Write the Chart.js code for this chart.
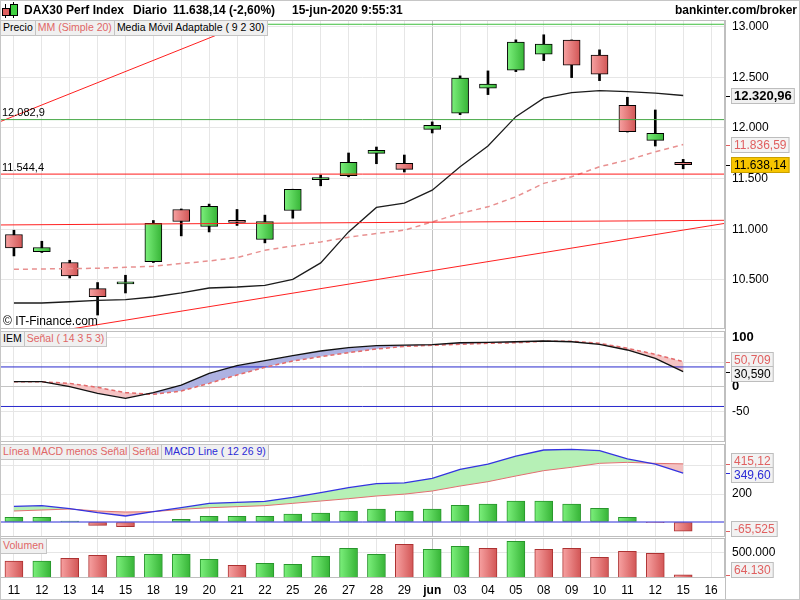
<!DOCTYPE html>
<html lang="es">
<head>
<meta charset="utf-8">
<title>DAX30 Perf Index</title>
<script src="https://cdn.jsdelivr.net/npm/chart.js@4.4.1/dist/chart.umd.min.js"></script>
<style>
  body { margin: 0; background: #fff; }
  #pantalla { position: relative; width: 800px; height: 600px; overflow: hidden; background: #fff;
              font-family: "Liberation Sans", Arial, sans-serif; color: #000; }
  #pantalla canvas { position: absolute; left: 0; }
  .marc { position: absolute; left: 0; top: 0; width: 798px; height: 598px; border: 1px solid #c6c6c6; pointer-events: none; }
  .eix { position: absolute; left: 725px; top: 20px; width: 1px; height: 579px; background: #bfbfbf; }
  .titol { position: absolute; top: 3px; font-size: 12px; font-weight: bold; white-space: nowrap; }
  .llegenda { position: absolute; left: 0; display: flex; font-size: 10.5px; line-height: 13px; white-space: nowrap; }
  .llegenda span { background: #f0f0f0; border: 1px solid #c4c4c4; border-left: none; padding: 0 2px 1px 2px; }
  .llegenda span:first-child { border-left: 1px solid #c4c4c4; }
  .roig { color: #e06666; }
  .blau { color: #2b2bd6; }
  .copy { position: absolute; left: 3px; top: 314px; font-size: 12px; }
  .peca { position: absolute; }
</style>
</head>
<body>
<div id="pantalla">
  <canvas id="grafPreu" width="800" height="309" style="top:20px"></canvas>
  <canvas id="grafIem" width="800" height="111" style="top:331px"></canvas>
  <canvas id="grafMacd" width="800" height="93" style="top:444px"></canvas>
  <canvas id="grafVol" width="800" height="61" style="top:538px"></canvas>

  <div class="eix"></div>
  <div class="marc"></div>

  <!-- icona -->
  <div class="peca" style="left:5px;top:4px;width:1px;height:14px;background:#000"></div>
  <div class="peca" style="left:2px;top:8px;width:6px;height:6px;background:#e06060;border:1px solid #000"></div>
  <div class="peca" style="left:13px;top:2px;width:1px;height:16px;background:#000"></div>
  <div class="peca" style="left:10px;top:4px;width:6px;height:10px;background:#40d040;border:1px solid #000"></div>

  <div class="titol" style="left:24px">DAX30 Perf Index</div>
  <div class="titol" style="left:133px">Diario</div>
  <div class="titol" style="left:173px">11.638,14 (-2,60%)</div>
  <div class="titol" style="left:292px">15-jun-2020 9:55:31</div>
  <div class="titol" style="right:3px">bankinter.com/broker</div>

  <div class="llegenda" style="top:20px"><span>Precio</span><span class="roig">MM (Simple 20)</span><span>Media Móvil Adaptable ( 9 2 30)</span></div>
  <div class="llegenda" style="top:331px"><span>IEM</span><span class="roig">Señal ( 14 3 5 3)</span></div>
  <div class="llegenda" style="top:444px"><span class="roig">Línea MACD menos Señal</span><span class="roig">Señal</span><span class="blau">MACD Line ( 12 26 9)</span></div>
  <div class="llegenda" style="top:538px"><span class="roig">Volumen</span></div>

  <div class="copy">© IT-Finance.com</div>
</div>

<script>
// Etiquetes de l'eix X (sessions)
const etiquetes = ['11','12','13','14','15','18','19','20','21','22','25','26','27','28','29','jun','03','04','05','08','09','10','11','12','15','16'];

// Espelmes
const obertura  = [10948,10779,10671,10413,10460,10680,11195,11027,11086,10898,11185,11490,11528,11750,11651,11987,12146,12393,12571,12730,12868,12720,12225,11878,11660];
const maxims    = [10990,10881,10693,10473,10545,11086,11200,11248,11195,11139,11395,11535,11753,11812,11733,12060,12515,12564,12871,12921,12870,12772,12304,12178,11690];
const minims    = [10736,10770,10518,10152,10370,10671,10934,10973,11037,10865,11109,11429,11518,11647,11565,11951,12132,12330,12557,12666,12498,12468,11960,11822,11597];
const tancament = [10815,10819,10538,10334,10470,11057,11076,11225,11067,11076,11393,11505,11660,11779,11591,12027,12492,12433,12849,12829,12621,12532,11964,11948,11638.14];

// Mitjanes
const mediaAdaptable = [10271,10271,10283,10297,10304,10330,10370,10419,10429,10446,10505,10667,10973,11215,11257,11386,11617,11822,12112,12294,12350,12369,12360,12344,12320.96];
const mitjana20      = [10604,10607,10611,10614,10624,10634,10661,10686,10720,10792,10835,10874,10921,10958,10990,11072,11156,11221,11320,11453,11518,11617,11683,11765,11836.59];

// Línies dibuixades
const liniaMaxim = 13025;
const liniaResistencia = 12082.9;
const liniaSuport = 11544.4;
const tendenciaSuperior = [[-0.5, 12062], [9, 13109]];
const tendenciaPlana = [[-0.5, 11042], [25.5, 11088]];
const tendenciaAlcista = [[-0.5, 9901], [25.5, 11058]];
const preuTicks = [10500, 11000, 11500, 12000, 12500, 13000];

// IEM
const iem       = [10.1,10.1,0,-13.4,-23.5,-12.1,3.4,27.1,42.5,52.6,62.8,72.3,79,83,84,85,89,89.7,91,92.5,91,85.8,74.3,57.5,30.59];
const senyalIem = [10,10,6.8,-1.3,-12,-15.5,-8.7,6.8,23.7,39.2,52,60.7,68.8,76.3,81.5,83.8,85.8,87.8,89,91.9,91.9,87.8,77.7,65.6,50.709];
const nivellsIem = [40, -40];
const iemTicks = [100, 50, 0, -50, -100];
const iemEtiquetes = [100, 0, -50];

// MACD
const macd       = [112,116.7,95,66.7,42.9,73.8,102,133.3,140.5,147.6,176.2,209.5,245.2,273.8,279,311.9,376,414,471,514,519,509.5,450,414,349.6];
const senyalMacd = [78.6,85.7,92.9,78.6,71.4,73.8,90.5,102,109.5,116.7,133.3,150,166.7,185.7,199,221.4,257,288,328.6,366.7,390.7,419,426,419,415.12];
const histograma = [33.3,33.3,7,-23.8,-33.3,0,19,40.5,40.5,40.5,57,64,78.6,93,78.6,92.9,119,128.6,150,150,128.6,97.6,33.6,-5,-65.525];
const macdTicks = [400, 200, 0];
const macdEtiquetes = [200];

// Volum
const volum = [336000,336000,389000,448000,428000,468000,468000,369000,251000,290000,270000,428000,587000,468000,666000,567000,626000,587000,725000,567000,587000,409000,528000,488000,64130];
const volTicks = [500000];

const FONT = '"Liberation Sans", Arial, sans-serif';
Chart.defaults.font.family = FONT;
Chart.defaults.font.size = 12;
Chart.defaults.color = '#000';

const VERD = ['#7cf07c', '#36b436'];
const VERMELL = ['#f7a2a2', '#d25555'];
const ROIG_TEXT = '#e06060';

function formatNum(v, dec) {
  const parts = v.toFixed(dec).split('.');
  parts[0] = parts[0].replace(/\B(?=(\d{3})+(?!\d))/g, '.');
  return parts.join(',');
}

const punts = serie => serie.map((v, i) => ({ x: i, y: v }));
const recta = p => p.map(([x, y]) => ({ x, y }));
const horitzontal = v => recta([[-0.5, v], [etiquetes.length - 0.5, v]]);

// degradat horitzontal per a cada barra
function degradat(chart, i, colors, ample) {
  const x = chart.scales.x ? chart.scales.x.getPixelForValue(i) : NaN;
  if (!Number.isFinite(x)) return colors[1];
  const g = chart.ctx.createLinearGradient(x - ample / 2, 0, x + ample / 2, 0);
  g.addColorStop(0, colors[0]);
  g.addColorStop(1, colors[1]);
  return g;
}

function linia(data, color, extra) {
  return Object.assign({ type: 'line', data, borderColor: color, borderWidth: 1, pointRadius: 0, tension: 0, fill: false, order: 0 }, extra || {});
}

// Vora de cada panell
const vora = {
  id: 'vora',
  afterDraw(chart) {
    const { ctx, chartArea: a } = chart;
    ctx.save();
    ctx.strokeStyle = '#bfbfbf';
    ctx.lineWidth = 1;
    ctx.strokeRect(a.left + 0.5, a.top + 0.5, a.right - a.left - 1, a.bottom - a.top - 1);
    ctx.restore();
  }
};

// Caixes amb el darrer valor a l'eix dret
const caixes = {
  id: 'caixes',
  afterDraw(chart, args, opts) {
    const { ctx, chartArea: a } = chart;
    const y = chart.scales.y;
    const items = (opts.items || []).map(it => ({ ...it, py: y.getPixelForValue(it.valor) }));
    items.forEach(it => { it.cy = it.py; });
    items.sort((p, q) => p.py - q.py);
    for (let i = 1; i < items.length; i++) {
      const d = items[i].cy - items[i - 1].cy;
      if (d < 14) {
        const s = (14 - d) / 2;
        items[i - 1].cy -= s;
        items[i].cy += s;
      }
    }
    ctx.save();
    items.forEach(it => {
      const cy = Math.max(a.top + 8, Math.min(it.cy, a.bottom - 8));
      ctx.font = it.font || '12px ' + FONT;
      const text = formatNum(it.valor, it.dec);
      const w = ctx.measureText(text).width + 6;
      ctx.strokeStyle = it.color;
      ctx.beginPath();
      ctx.moveTo(a.right + 1, Math.round(it.py) + 0.5);
      ctx.lineTo(a.right + 5, Math.round(it.py) + 0.5);
      ctx.stroke();
      const x0 = a.right + 6, y0 = Math.round(cy - 8);
      ctx.fillStyle = it.fons || '#f2f2f2';
      ctx.fillRect(x0, y0, w, 16);
      ctx.strokeStyle = it.vora || '#bdbdbd';
      ctx.strokeRect(x0 + 0.5, y0 + 0.5, w - 1, 15);
      ctx.fillStyle = it.color;
      ctx.textBaseline = 'middle';
      ctx.fillText(text, x0 + 3, y0 + 8.5);
    });
    ctx.restore();
  }
};

// Etiquetes dels nivells horitzontals
const nivells = {
  id: 'nivells',
  afterDatasetsDraw(chart, args, opts) {
    const { ctx, chartArea: a } = chart;
    ctx.save();
    ctx.font = '11px ' + FONT;
    ctx.fillStyle = '#000';
    ctx.textBaseline = 'bottom';
    (opts.valors || []).forEach(v => {
      ctx.fillText(formatNum(v, 1), a.left + 2, chart.scales.y.getPixelForValue(v) - 1);
    });
    ctx.restore();
  }
};

function escalaX(ambEtiquetes) {
  return {
    type: 'linear',
    offset: false,
    min: -0.5,
    max: etiquetes.length - 0.5,
    afterBuildTicks: s => { s.ticks = etiquetes.map((_, i) => ({ value: i })); },
    afterFit: s => { s.height = ambEtiquetes ? 21 : 0; s.paddingLeft = 0; s.paddingRight = 0; },
    grid: { color: c => etiquetes[c.tick ? c.tick.value : -1] === 'jun' ? '#c2c2c2' : '#e6e6e6', drawTicks: false, offset: false },
    border: { display: false },
    ticks: {
      display: ambEtiquetes, autoSkip: false, maxRotation: 0, padding: 5, color: '#000',
      callback: v => etiquetes[v],
      font: c => ({ family: FONT, size: 12, weight: c.tick && etiquetes[c.tick.value] === 'jun' ? 'bold' : 'normal' })
    }
  };
}

function escalaY({ min, max, valors, etiquetats, format, graella, font }) {
  return {
    type: 'linear', position: 'right', min, max,
    afterBuildTicks: s => { s.ticks = valors.map(v => ({ value: v })); },
    afterFit: s => { s.width = 75; s.paddingTop = 0; s.paddingBottom = 0; },
    grid: { color: graella || '#e6e6e6', drawTicks: false },
    border: { display: false },
    ticks: { padding: 7, color: '#000', autoSkip: false,
      callback: v => etiquetats.includes(v) ? format(v) : '',
      font: font || { size: 12 } }
  };
}

function opcions(escalaVertical, ambEtiquetesX, pluginOpts) {
  return {
    responsive: false,
    animation: false,
    events: [],
    layout: { padding: 0 },
    plugins: Object.assign({
      legend: { display: false },
      tooltip: { enabled: false },
      filler: { drawTime: 'beforeDatasetsDraw' }
    }, pluginOpts),
    scales: { x: escalaX(ambEtiquetesX), y: escalaVertical }
  };
}

// ---------- Preu ----------
const cos = obertura.map((o, i) => ({ x: i, y: [o, tancament[i]] }));
const metxes = minims.map((m, i) => ({ x: i, y: [m, maxims[i]] }));

new Chart(document.getElementById('grafPreu'), {
  type: 'bar',
  data: {
    datasets: [
      linia(horitzontal(liniaMaxim), '#3cbf3c'),
      linia(horitzontal(liniaResistencia), '#46a846'),
      linia(horitzontal(liniaSuport), '#ff1a1a'),
      linia(recta(tendenciaSuperior), '#ff2020'),
      linia(recta(tendenciaPlana), '#ff2020'),
      linia(recta(tendenciaAlcista), '#ff2020'),
      linia(punts(mediaAdaptable), '#1c1c1c', { borderWidth: 1.3 }),
      linia(punts(mitjana20), '#e89090', { borderWidth: 1.5, borderDash: [5, 4] }),
      {
        data: cos, order: 1, grouped: false, barThickness: 17, minBarLength: 2,
        backgroundColor: c => degradat(c.chart, c.dataIndex, tancament[c.dataIndex] >= obertura[c.dataIndex] ? VERD : VERMELL, 17),
        borderColor: '#000', borderWidth: 1, borderSkipped: false
      },
      { data: metxes, order: 2, grouped: false, barThickness: 2, backgroundColor: '#000', borderWidth: 0 }
    ]
  },
  options: opcions(
    escalaY({ min: 10014, max: 13067, valors: preuTicks, etiquetats: preuTicks, format: v => formatNum(v, 0) }),
    false,
    {
      nivells: { valors: [liniaResistencia, liniaSuport] },
      caixes: { items: [
        { valor: mediaAdaptable[mediaAdaptable.length - 1], dec: 2, color: '#000', font: 'bold 13px ' + FONT, fons: '#f0f0f0' },
        { valor: mitjana20[mitjana20.length - 1], dec: 2, color: ROIG_TEXT, fons: '#f4f4f4' },
        { valor: tancament[tancament.length - 1], dec: 2, color: '#000', fons: '#f7c500', vora: '#c9a000' }
      ] }
    }
  ),
  plugins: [vora, nivells, caixes]
});

// ---------- IEM ----------
new Chart(document.getElementById('grafIem'), {
  type: 'bar',
  data: {
    datasets: [
      linia(punts(iem), '#111', { borderWidth: 1.3, fill: { target: '+1', above: '#aeb2e2', below: '#f5c4c4' } }),
      linia(punts(senyalIem), '#e46a6a', { borderWidth: 1.5, borderDash: [4, 3] }),
      linia(horitzontal(nivellsIem[0]), '#2828cc'),
      linia(horitzontal(nivellsIem[1]), '#2828cc')
    ]
  },
  options: opcions(
    escalaY({ min: -111.9, max: 112.75, valors: iemTicks, etiquetats: iemEtiquetes, format: v => String(v),
      graella: c => c.tick && c.tick.value === 0 ? '#c4c4c4' : '#e6e6e6',
      font: c => ({ size: c.tick && c.tick.value >= 0 ? 13 : 12, weight: c.tick && c.tick.value >= 0 ? 'bold' : 'normal' }) }),
    false,
    { caixes: { items: [
      { valor: senyalIem[senyalIem.length - 1], dec: 3, color: ROIG_TEXT },
      { valor: iem[iem.length - 1], dec: 3, color: '#000' }
    ] } }
  ),
  plugins: [vora, caixes]
});

// ---------- MACD ----------
new Chart(document.getElementById('grafMacd'), {
  type: 'bar',
  data: {
    datasets: [
      linia(punts(macd), '#3434e0', { borderWidth: 1.3, fill: { target: '+1', above: '#b6f0b6', below: '#f3c0c0' } }),
      linia(punts(senyalMacd), '#e07070'),
      linia(horitzontal(0), '#2a2ad8'),
      {
        data: punts(histograma), order: 1, barThickness: 18,
        backgroundColor: c => degradat(c.chart, c.dataIndex, histograma[c.dataIndex] >= 0 ? VERD : VERMELL, 18),
        borderColor: c => histograma[c.dataIndex] >= 0 ? '#28962c' : '#ad3232',
        borderWidth: 1, borderSkipped: false
      }
    ]
  },
  options: opcions(
    escalaY({ min: -107, max: 557, valors: macdTicks, etiquetats: macdEtiquetes, format: v => String(v),
      graella: c => c.tick && c.tick.value === 0 ? 'transparent' : '#e6e6e6' }),
    false,
    { caixes: { items: [
      { valor: senyalMacd[senyalMacd.length - 1], dec: 2, color: ROIG_TEXT },
      { valor: macd[macd.length - 1], dec: 2, color: '#2b2bd6' },
      { valor: histograma[histograma.length - 1], dec: 3, color: ROIG_TEXT }
    ] } }
  ),
  plugins: [vora, caixes]
});

// ---------- Volum ----------
const volumPuja = volum.map((v, i) => i === 0 ? tancament[0] >= obertura[0] : tancament[i] >= tancament[i - 1]);

new Chart(document.getElementById('grafVol'), {
  type: 'bar',
  data: {
    datasets: [{
      data: punts(volum), barThickness: 18,
      backgroundColor: c => degradat(c.chart, c.dataIndex, volumPuja[c.dataIndex] ? VERD : VERMELL, 18),
      borderColor: c => volumPuja[c.dataIndex] ? '#28962c' : '#ad3232',
      borderWidth: 1, borderSkipped: false
    }]
  },
  options: opcions(
    escalaY({ min: 0, max: 790000, valors: volTicks, etiquetats: volTicks, format: v => formatNum(v, 0) }),
    true,
    { caixes: { items: [
      { valor: volum[volum.length - 1], dec: 0, color: ROIG_TEXT }
    ] } }
  ),
  plugins: [vora, caixes]
});
</script>
</body>
</html>
